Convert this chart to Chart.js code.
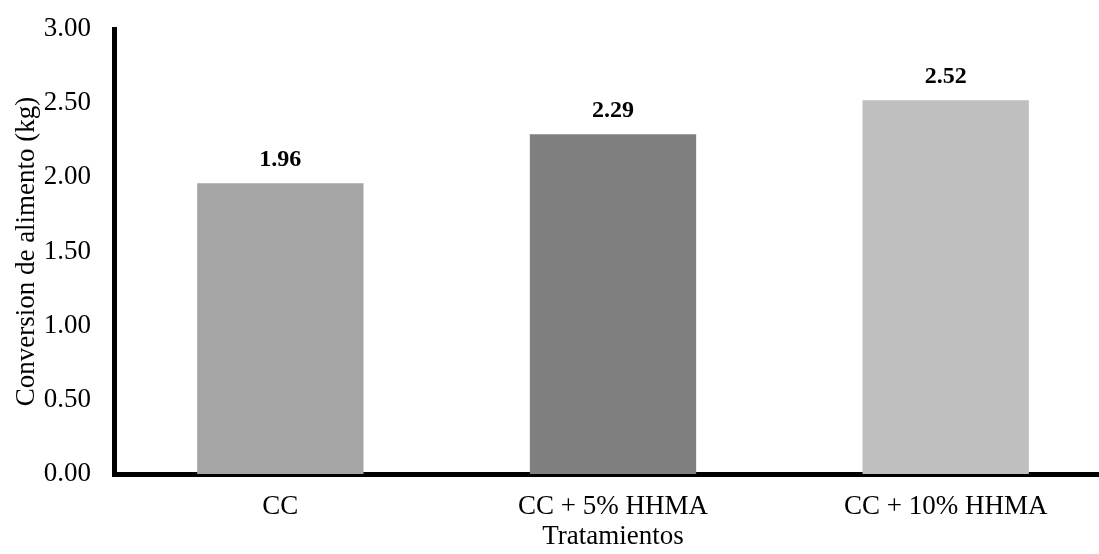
<!DOCTYPE html>
<html>
  <head>
    <meta charset="UTF-8" />
    <title>Conversion de alimento</title>
    <style>
      html, body { margin: 0; padding: 0; overflow: hidden; background: #fff; }
    </style>
  </head>
  <body>
    <canvas id="myCanvas" width="1112" height="554"></canvas>
    <script src="https://cdn.jsdelivr.net/npm/chart.js@4/dist/chart.umd.min.js"></script>
    <script>
      const categories = ["CC", "CC + 5% HHMA", "CC + 10% HHMA"];
      const values = [1.96, 2.29, 2.52];
      const barColors = ["#a5a5a5", "#7f7f7f", "#bfbfbf"];
      const yTitle = "Conversion de alimento (kg)";
      const xTitle = "Tratamientos";

      const serif = "'Liberation Serif', 'Times New Roman', serif";

      // etiquetas de valor encima de cada barra
      const valueLabels = {
        id: "valueLabels",
        afterDatasetsDraw(chart) {
          const ctx = chart.ctx;
          const meta = chart.getDatasetMeta(0);
          ctx.save();
          ctx.font = "bold 24px " + serif;
          ctx.fillStyle = "#000";
          ctx.textAlign = "center";
          ctx.textBaseline = "alphabetic";
          meta.data.forEach((bar, i) => {
            ctx.fillText(values[i].toFixed(2), bar.x, bar.y - 17);
          });
          ctx.restore();
        }
      };

      const ctx = document.getElementById("myCanvas").getContext("2d");
      const myChart = new Chart(ctx, {
        type: "bar",
        data: {
          labels: categories,
          datasets: [
            {
              data: values,
              backgroundColor: barColors,
              borderWidth: 0,
              barPercentage: 0.5,
              categoryPercentage: 1
            }
          ]
        },
        options: {
          responsive: false,
          animation: false,
          layout: { padding: { top: 29, left: 0, right: 0, bottom: 0 } },
          plugins: {
            legend: { display: false },
            tooltip: { enabled: false }
          },
          scales: {
            x: {
              z: 1,
              grid: { display: false, drawTicks: false },
              border: { display: true, color: "#000", width: 5 },
              ticks: {
                color: "#000",
                font: { family: serif, size: 27 },
                padding: 17
              },
              title: {
                display: true,
                text: xTitle,
                color: "#000",
                font: { family: serif, size: 27 },
                padding: { top: 0, bottom: 1 }
              },
              afterFit(scale) { scale.height = 80; }
            },
            y: {
              z: 1,
              min: 0,
              max: 3,
              grid: { display: false, drawTicks: false },
              border: { display: true, color: "#000", width: 5 },
              ticks: {
                stepSize: 0.5,
                color: "#000",
                font: { family: serif, size: 27 },
                padding: 23,
                callback: v => Number(v).toFixed(2)
              },
              title: {
                display: true,
                text: yTitle,
                color: "#000",
                font: { family: serif, size: 27 },
                padding: { top: 11, bottom: 0 }
              },
              afterFit(scale) {
                scale.width = 114;
                scale.paddingTop = 0;
                scale.paddingBottom = 0;
              }
            }
          }
        },
        plugins: [valueLabels]
      });
    </script>
  </body>
</html>
